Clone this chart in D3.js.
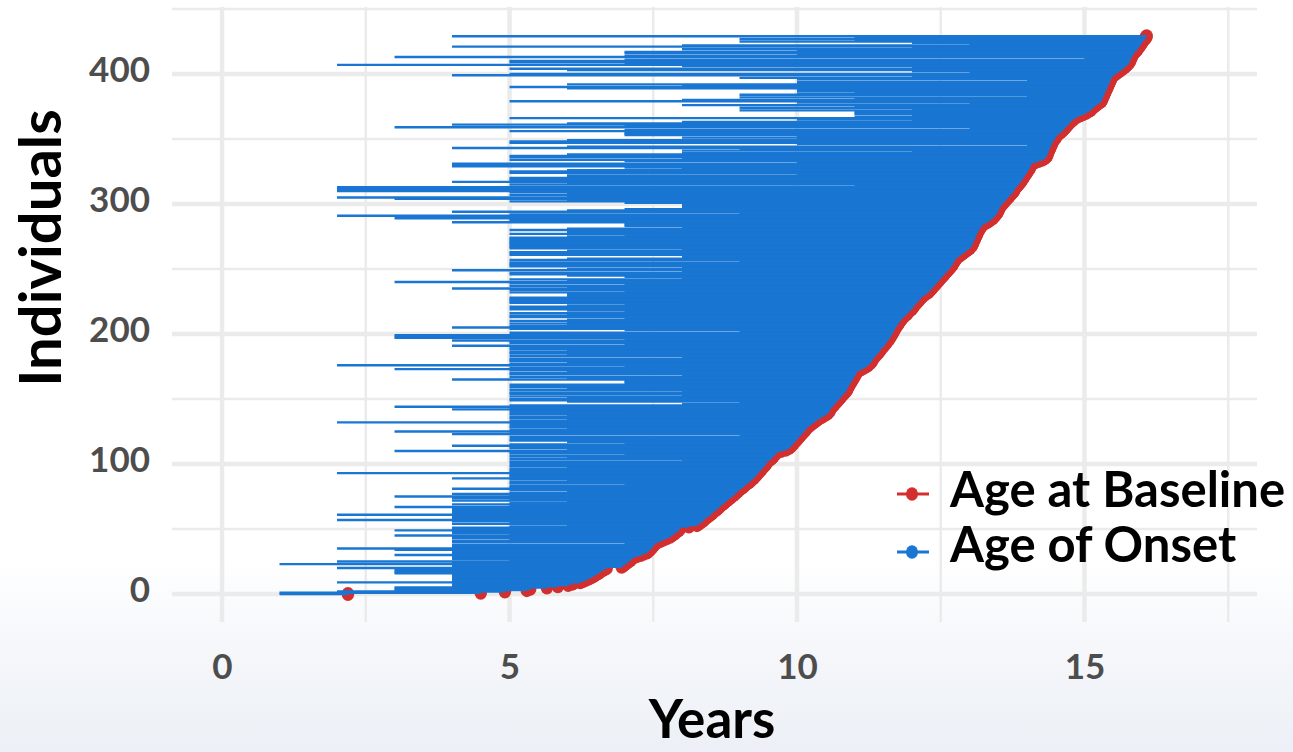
<!DOCTYPE html>
<html>
<head>
<meta charset="utf-8">
<script src="https://cdn.jsdelivr.net/npm/d3@7"></script>
<style>
  html, body { margin: 0; padding: 0; background: #ffffff; overflow: hidden; }
  svg { display: block; font-family: Lato, "Open Sans", "DejaVu Sans", sans-serif; }
</style>
</head>
<body>
<svg id="chart" width="1293" height="752"></svg>
<script>
// Age at baseline for each individual, sorted ascending (years)
const baselineAge = [
  2.19, 4.50, 4.92, 5.30, 5.36, 5.65, 5.84, 6.02, 6.10, 6.23,
  6.28, 6.33, 6.38, 6.43, 6.47, 6.50, 6.54, 6.57, 6.61, 6.65,
  6.69, 6.95, 6.98, 7.01, 7.04, 7.07, 7.10, 7.12, 7.15, 7.21,
  7.28, 7.33, 7.39, 7.42, 7.44, 7.46, 7.48, 7.50, 7.52, 7.53,
  7.58, 7.63, 7.68, 7.74, 7.79, 7.82, 7.85, 7.88, 7.91, 7.94,
  7.96, 7.97, 8.12, 8.26, 8.29, 8.32, 8.35, 8.38, 8.40, 8.43,
  8.46, 8.49, 8.52, 8.54, 8.57, 8.60, 8.62, 8.65, 8.67, 8.70,
  8.73, 8.75, 8.78, 8.81, 8.84, 8.86, 8.89, 8.92, 8.94, 8.97,
  8.99, 9.02, 9.05, 9.08, 9.10, 9.13, 9.16, 9.19, 9.21, 9.24,
  9.26, 9.28, 9.30, 9.32, 9.34, 9.36, 9.38, 9.40, 9.42, 9.44,
  9.46, 9.47, 9.49, 9.52, 9.55, 9.57, 9.59, 9.61, 9.63, 9.65,
  9.72, 9.80, 9.85, 9.88, 9.90, 9.92, 9.94, 9.96, 9.98, 10.00,
  10.02, 10.04, 10.06, 10.08, 10.10, 10.12, 10.14, 10.16, 10.17, 10.20,
  10.23, 10.26, 10.29, 10.32, 10.35, 10.38, 10.42, 10.46, 10.50, 10.53,
  10.55, 10.57, 10.57, 10.59, 10.61, 10.63, 10.65, 10.67, 10.69, 10.71,
  10.73, 10.75, 10.77, 10.79, 10.81, 10.83, 10.85, 10.87, 10.87, 10.89,
  10.90, 10.91, 10.93, 10.94, 10.95, 10.97, 10.98, 10.99, 11.01, 11.02,
  11.03, 11.04, 11.08, 11.12, 11.16, 11.20, 11.23, 11.26, 11.28, 11.30,
  11.31, 11.32, 11.34, 11.36, 11.38, 11.40, 11.42, 11.44, 11.45, 11.47,
  11.49, 11.51, 11.53, 11.55, 11.56, 11.58, 11.60, 11.61, 11.63, 11.64,
  11.65, 11.67, 11.68, 11.69, 11.70, 11.72, 11.73, 11.75, 11.76, 11.78,
  11.79, 11.81, 11.83, 11.85, 11.87, 11.90, 11.92, 11.94, 11.96, 11.99,
  12.01, 12.02, 12.04, 12.06, 12.08, 12.10, 12.12, 12.14, 12.16, 12.18,
  12.21, 12.24, 12.28, 12.30, 12.32, 12.34, 12.36, 12.38, 12.40, 12.42,
  12.44, 12.46, 12.48, 12.50, 12.52, 12.54, 12.56, 12.58, 12.60, 12.62,
  12.64, 12.66, 12.68, 12.70, 12.71, 12.72, 12.74, 12.75, 12.77, 12.78,
  12.82, 12.85, 12.88, 12.91, 12.94, 12.97, 13.00, 13.02, 13.04, 13.05,
  13.06, 13.07, 13.08, 13.09, 13.10, 13.11, 13.12, 13.13, 13.14, 13.15,
  13.16, 13.18, 13.19, 13.21, 13.22, 13.26, 13.30, 13.34, 13.37, 13.40,
  13.42, 13.44, 13.46, 13.48, 13.49, 13.50, 13.51, 13.52, 13.53, 13.55,
  13.57, 13.59, 13.61, 13.63, 13.65, 13.67, 13.69, 13.71, 13.73, 13.75,
  13.77, 13.78, 13.79, 13.81, 13.83, 13.85, 13.87, 13.89, 13.90, 13.92,
  13.93, 13.95, 13.96, 13.98, 13.99, 14.01, 14.02, 14.04, 14.05, 14.06,
  14.07, 14.08, 14.14, 14.20, 14.26, 14.30, 14.33, 14.35, 14.35, 14.36,
  14.37, 14.38, 14.39, 14.40, 14.41, 14.42, 14.43, 14.44, 14.45, 14.46,
  14.48, 14.50, 14.51, 14.52, 14.55, 14.58, 14.61, 14.63, 14.65, 14.67,
  14.69, 14.71, 14.73, 14.75, 14.78, 14.80, 14.83, 14.87, 14.92, 14.97,
  15.02, 15.06, 15.10, 15.12, 15.14, 15.17, 15.20, 15.23, 15.26, 15.29,
  15.30, 15.31, 15.32, 15.33, 15.34, 15.35, 15.36, 15.37, 15.38, 15.39,
  15.40, 15.41, 15.42, 15.43, 15.44, 15.45, 15.46, 15.47, 15.48, 15.50,
  15.54, 15.57, 15.60, 15.63, 15.66, 15.69, 15.72, 15.74, 15.76, 15.78,
  15.79, 15.80, 15.81, 15.82, 15.83, 15.84, 15.86, 15.88, 15.90, 15.92,
  15.93, 15.95, 15.97, 15.98, 16.00, 16.01, 16.03, 16.05, 16.07, 16.08
];

// Age of onset for the same individuals (whole years)
const onsetAge = [
  1, 1, 2, 3, 3, 3, 4, 4, 4, 2,
  4, 4, 4, 4, 4, 4, 3, 3, 3, 3,
  2, 4, 4, 1, 4, 2, 5, 4, 4, 4,
  3, 4, 4, 4, 3, 2, 4, 4, 4, 7,
  4, 4, 5, 4, 4, 3, 5, 4, 4, 3,
  4, 4, 5, 6, 4, 5, 4, 2, 4, 4,
  4, 2, 4, 4, 4, 4, 4, 3, 5, 4,
  5, 6, 4, 5, 4, 3, 5, 4, 5, 6,
  5, 4, 5, 5, 7, 5, 5, 6, 5, 4,
  5, 5, 5, 2, 5, 5, 5, 6, 5, 5,
  6, 5, 5, 8, 5, 6, 5, 7, 5, 5,
  3, 6, 5, 5, 4, 5, 7, 6, 5, 5,
  6, 5, 9, 4, 5, 3, 5, 6, 5, 5,
  6, 5, 2, 5, 6, 5, 5, 6, 5, 5,
  7, 5, 4, 5, 3, 5, 8, 9, 6, 5,
  5, 6, 5, 8, 5, 5, 8, 5, 6, 5,
  6, 5, 7, 7, 7, 4, 6, 5, 8, 5,
  5, 6, 5, 3, 5, 7, 2, 5, 6, 5,
  5, 5, 8, 5, 6, 5, 5, 6, 5, 5,
  7, 4, 7, 5, 5, 4, 7, 3, 3, 3,
  6, 5, 9, 7, 5, 4, 5, 6, 5, 6,
  5, 6, 7, 5, 5, 6, 5, 7, 6, 5,
  6, 5, 6, 7, 5, 5, 5, 5, 5, 6,
  8, 6, 5, 7, 5, 4, 6, 5, 7, 5,
  3, 6, 5, 8, 7, 6, 5, 5, 8, 4,
  6, 8, 5, 5, 5, 5, 9, 5, 6, 8,
  8, 5, 5, 5, 6, 8, 5, 5, 5, 5,
  5, 5, 5, 5, 5, 6, 7, 5, 6, 6,
  5, 6, 8, 7, 7, 7, 4, 5, 5, 3,
  4, 2, 5, 9, 4, 6, 7, 8, 8, 8,
  8, 7, 5, 6, 3, 2, 6, 5, 6, 5,
  2, 2, 2, 2, 11, 5, 6, 4, 5, 5,
  5, 6, 6, 10, 5, 5, 6, 8, 7, 4,
  12, 4, 10, 7, 5, 8, 5, 5, 6, 8,
  12, 8, 9, 4, 6, 14, 10, 5, 5, 6,
  10, 8, 10, 7, 7, 7, 5, 7, 13, 3,
  7, 4, 6, 8, 12, 10, 5, 11, 12, 11,
  11, 11, 9, 12, 9, 11, 8, 13, 10, 5,
  8, 11, 9, 14, 9, 10, 11, 10, 10, 6,
  5, 8, 6, 10, 10, 14, 10, 9, 12, 4,
  5, 13, 12, 6, 5, 12, 8, 2, 7, 5,
  5, 7, 15, 3, 7, 10, 7, 7, 10, 8,
  12, 4, 8, 13, 12, 9, 11, 9, 11, 4
];

const xTickValues = [0, 5, 10, 15];
const xMinorValues = [2.5, 7.5, 12.5, 17.5];
const yTickValues = [0, 100, 200, 300, 400];
const yMinorValues = [50, 150, 250, 350, 450];
const seriesNames = ["Age at Baseline", "Age of Onset"];
const seriesColors = ["#d32f2f", "#1976d2"];

const people = baselineAge.map((b, i) => ({ id: i, baseline: b, onset: onsetAge[i] }));

const svg = d3.select("#chart");
const W = 1293, H = 752;

// Scales
const x = d3.scaleLinear().domain([-0.87, 18.0]).range([172, 1257]);
const y = d3.scaleLinear().domain([-21.5, 451.5]).range([622, 7]);

// Soft backdrop, faintly bluish along the bottom edge
const defs = svg.append("defs");
const bg = defs.append("linearGradient").attr("id", "fade")
  .attr("x1", 0).attr("y1", 0).attr("x2", 0).attr("y2", 1);
bg.append("stop").attr("offset", "0.74").attr("stop-color", "#ffffff");
bg.append("stop").attr("offset", "0.88").attr("stop-color", "#f4f6fa");
bg.append("stop").attr("offset", "1").attr("stop-color", "#ecf0f6");
svg.append("rect").attr("width", W).attr("height", H).attr("fill", "url(#fade)");

// Grid lines
const grid = svg.append("g").attr("stroke", "#ebebeb").attr("fill", "none");
const [x0, x1] = x.range();
const [y0, y1] = y.range();
grid.selectAll("line.hmin").data(yMinorValues).join("line")
  .attr("x1", x0).attr("x2", x1).attr("y1", d => y(d)).attr("y2", d => y(d))
  .attr("stroke-width", 2.5);
grid.selectAll("line.vmin").data(xMinorValues).join("line")
  .attr("y1", y0).attr("y2", y1).attr("x1", d => x(d)).attr("x2", d => x(d))
  .attr("stroke-width", 2.5);
grid.selectAll("line.hmaj").data(yTickValues).join("line")
  .attr("x1", x0).attr("x2", x1).attr("y1", d => y(d)).attr("y2", d => y(d))
  .attr("stroke-width", 4.5);
grid.selectAll("line.vmaj").data(xTickValues).join("line")
  .attr("y1", y0).attr("y2", y1).attr("x1", d => x(d)).attr("x2", d => x(d))
  .attr("stroke-width", 4.5);

// Baseline points
svg.append("g").selectAll("ellipse").data(people).join("ellipse")
  .attr("cx", d => x(d.baseline)).attr("cy", d => y(d.id))
  .attr("rx", 6.3).attr("ry", 7)
  .attr("fill", seriesColors[0]);

// Onset-to-baseline segments
svg.append("g").selectAll("line").data(people).join("line")
  .attr("x1", d => x(d.onset)).attr("x2", d => x(d.baseline))
  .attr("y1", d => y(d.id)).attr("y2", d => y(d.id))
  .attr("stroke", seriesColors[1]).attr("stroke-width", 2.4);

// Axes (labels only)
const xAxis = svg.append("g").attr("transform", "translate(0,666)")
  .call(d3.axisBottom(x).tickValues(xTickValues).tickSize(0).tickPadding(0));
const yAxis = svg.append("g").attr("transform", `translate(${x0},0)`)
  .call(d3.axisLeft(y).tickValues(yTickValues).tickSize(0).tickPadding(22));
[xAxis, yAxis].forEach(a => {
  a.select(".domain").remove();
  a.selectAll("text").attr("font-family", "Lato, 'Open Sans', sans-serif")
    .attr("font-weight", 700).attr("font-size", 35).attr("fill", "#4d4d4d");
});
xAxis.selectAll("text").attr("dy", "0.36em").attr("y", 0);
yAxis.selectAll("text").attr("dy", "0.22em");

// Axis titles
svg.append("text").attr("x", 712).attr("y", 738).attr("text-anchor", "middle")
  .attr("font-size", 53).attr("font-weight", 700).attr("fill", "#000").text("Years");
svg.append("text").attr("transform", "translate(61,248) rotate(-90)").attr("text-anchor", "middle")
  .attr("font-size", 58).attr("font-weight", 700).attr("fill", "#000").text("Individuals");

// Legend
const legend = svg.append("g");
const legendRows = [{ name: seriesNames[0], color: seriesColors[0], ky: 494, ty: 507 },
                    { name: seriesNames[1], color: seriesColors[1], ky: 552, ty: 562 }];
const lg = legend.selectAll("g").data(legendRows).join("g");
lg.append("line").attr("x1", 897).attr("x2", 929).attr("y1", d => d.ky).attr("y2", d => d.ky)
  .attr("stroke", d => d.color).attr("stroke-width", 3);
lg.append("ellipse").attr("cx", 912).attr("cy", d => d.ky).attr("rx", 6).attr("ry", 6.8)
  .attr("fill", d => d.color);
lg.append("text").attr("x", 950).attr("y", d => d.ty)
  .attr("font-size", 49).attr("font-weight", 700).attr("fill", "#000").text(d => d.name);
</script>
</body>
</html>
